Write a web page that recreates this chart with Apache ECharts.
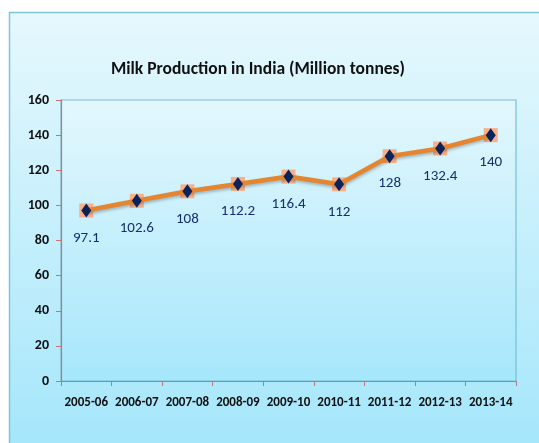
<!DOCTYPE html>
<html><head><meta charset="utf-8">
<script src="https://cdn.jsdelivr.net/npm/echarts@6/dist/echarts.min.js"></script>
<style>html,body{margin:0;padding:0;background:#fff}#c{width:539px;height:443px}</style>
</head><body><div id="c"></div>
<script>
var categories = ['2005-06','2006-07','2007-08','2008-09','2009-10','2010-11','2011-12','2012-13','2013-14'];
var production = [97.1, 102.6, 108, 112.2, 116.4, 112, 128, 132.4, 140];
var yTicks = {min: 0, max: 160, interval: 20};
var titleText = 'Milk Production in India (Million tonnes)';

var FONT = "Carlito, Lato, sans-serif";
var chart = echarts.init(document.getElementById('c'), null, {renderer: 'canvas'});
chart.setOption({
  animation: false,
  backgroundColor: '#ffffff',
  graphic: [{
    type: 'rect', z: -10, silent: true,
    shape: {x: 9.5, y: 12.5, width: 540, height: 440},
    style: {
      fill: new echarts.graphic.LinearGradient(0, 0, 0, 1, [
        {offset: 0, color: '#e6f8fd'}, {offset: 1, color: '#a4e6fb'}]),
      stroke: '#7cc6da', lineWidth: 1.5
    }
  }],
  title: {
    text: titleText, left: 253, top: 56, textAlign: 'center',
    textStyle: {fontFamily: FONT, fontSize: 17.5, fontWeight: 'bold', color: '#111'}
  },
  grid: {
    left: 61, top: 100, right: 23, bottom: 62,
    show: true, borderColor: '#74c0d6', borderWidth: 1.2,
    backgroundColor: new echarts.graphic.LinearGradient(0, 0, 0, 1, [
      {offset: 0, color: '#e3f7fd'}, {offset: 1, color: '#a6e7fb'}])
  },
  xAxis: {
    type: 'category', data: categories, boundaryGap: true,
    axisLine: {lineStyle: {color: '#d07070', width: 1.2}},
    axisTick: {show: true, alignWithLabel: false, length: 5, lineStyle: {color: '#d07070'}},
    axisLabel: {fontFamily: FONT, fontSize: 13, fontWeight: 'bold', color: '#111', margin: 15, interval: 0}
  },
  yAxis: {
    type: 'value', min: yTicks.min, max: yTicks.max, interval: yTicks.interval,
    splitLine: {show: false},
    axisLine: {show: true, lineStyle: {color: '#d07070', width: 1.2}},
    axisTick: {show: true, length: 5, lineStyle: {color: '#d07070'}},
    axisLabel: {fontFamily: FONT, fontSize: 14, fontWeight: 'bold', color: '#111', margin: 12}
  },
  series: [
    {
      type: 'scatter', data: production, symbol: 'rect', symbolSize: 14, z: 1,
      itemStyle: {color: '#f7b08a', opacity: 1}
    },
    {
      type: 'line', data: production, z: 2, symbol: 'none',
      lineStyle: {color: '#e5852f', width: 4.5, shadowColor: 'rgba(0,0,0,0.25)', shadowBlur: 3, shadowOffsetY: 2}
    },
    {
      type: 'scatter', data: production, symbol: 'diamond', symbolSize: [10, 14], z: 3,
      itemStyle: {color: '#0b2358', opacity: 1},
      label: {show: true, position: 'bottom', distance: 13, fontFamily: FONT, fontSize: 15,
        fontWeight: 'normal', color: '#152f6e'}
    }
  ]
});
</script></body></html>
